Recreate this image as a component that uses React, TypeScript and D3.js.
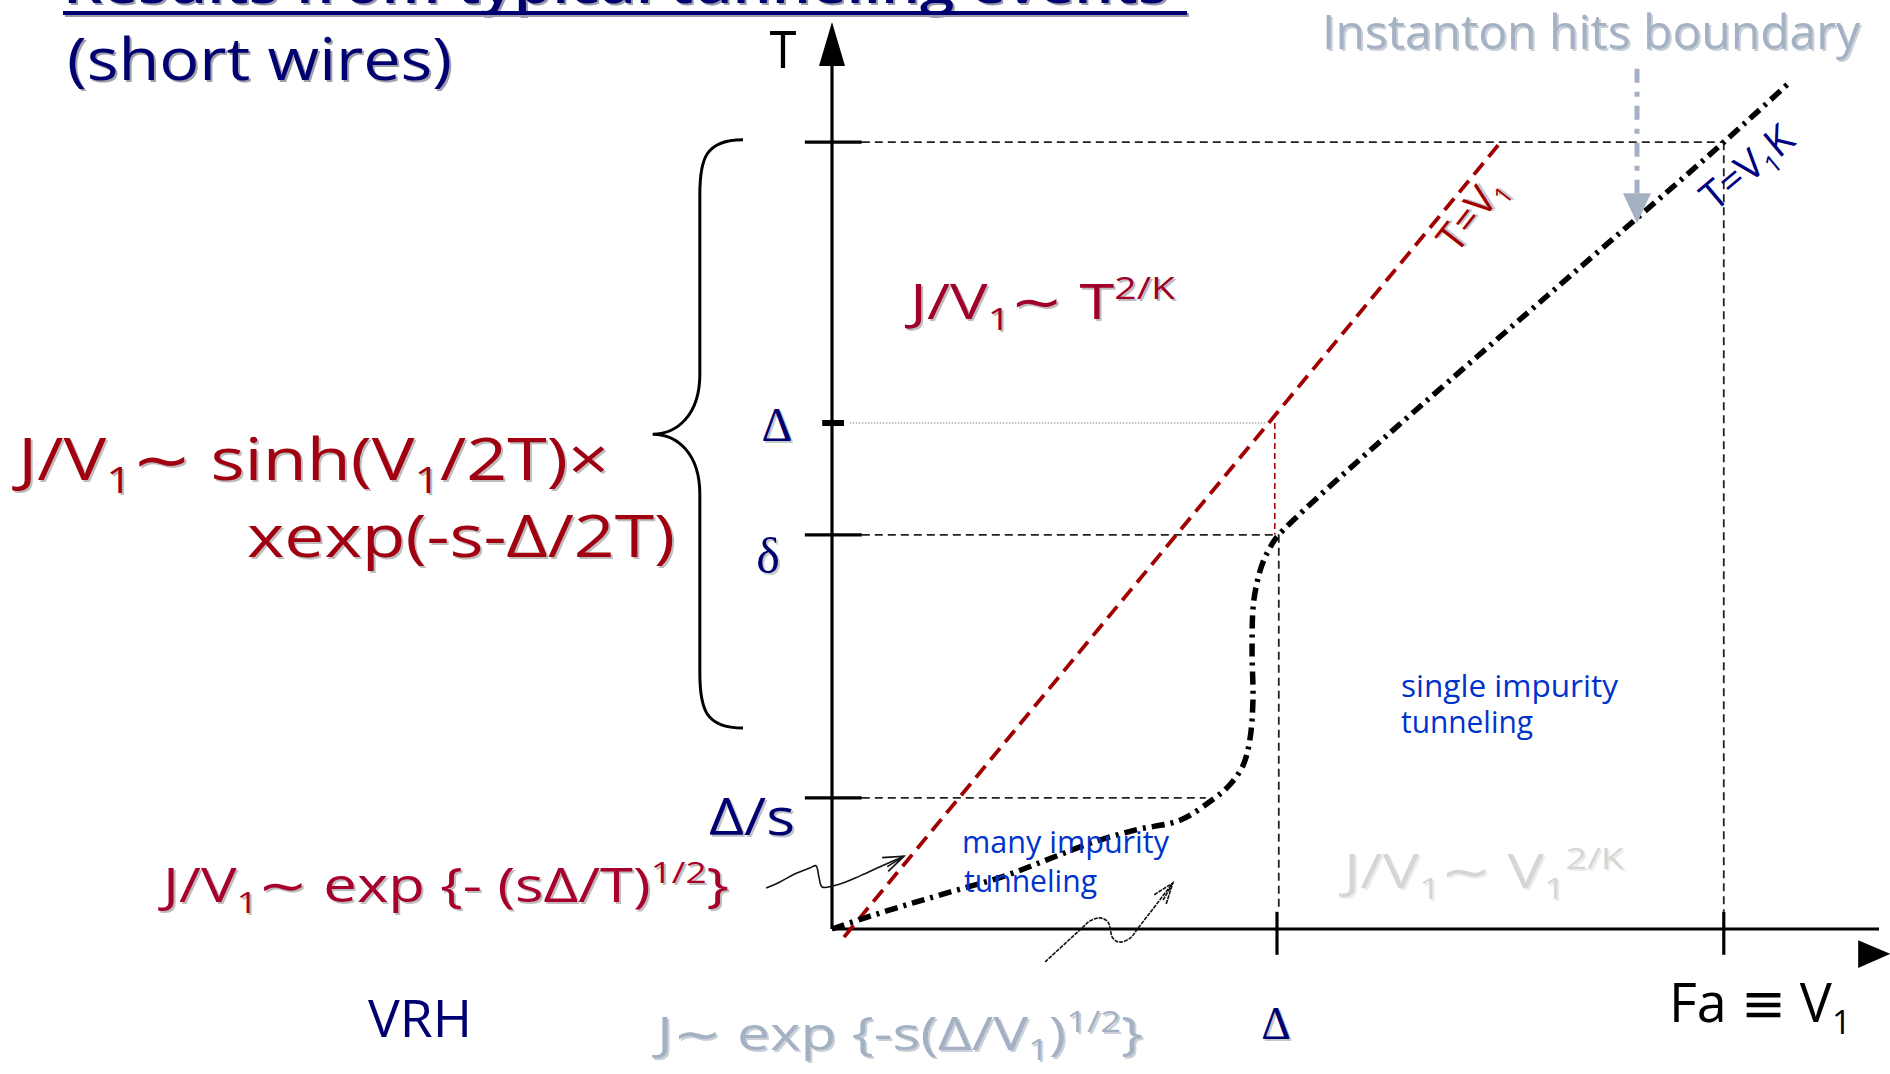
import React from 'react';
import * as d3 from 'd3';

// ---------- data (units: x in V1/Δ, y in T/Δ) ----------
const yTickValues = [1.555, 1.0, 0.779, 0.259];
const xTickValues = [1.0, 2.004];
const redLineTV1: [number, number][] = [[0.027, -0.016], [1.497, 1.549]];
const crossoverCurve: [number, number][] = [
  [0, 0], [0.081, 0.024], [0.18, 0.051], [0.281, 0.077], [0.382, 0.103],
  [0.481, 0.136], [0.582, 0.17], [0.683, 0.196], [0.782, 0.215], [0.854, 0.255],
  [0.894, 0.285], [0.924, 0.324], [0.939, 0.374], [0.946, 0.453], [0.944, 0.551],
  [0.948, 0.65], [0.966, 0.719], [0.984, 0.753], [1.004, 0.779], [2.004, 1.555],
  [2.153, 1.674],
];
const wavyArrowA: [number, number][] = [
  [-0.148, 0.081], [-0.117, 0.093], [-0.083, 0.109], [-0.049, 0.121], [-0.036, 0.125],
  [-0.029, 0.101], [-0.022, 0.083], [0.018, 0.089], [0.063, 0.105], [0.108, 0.123], [0.162, 0.144],
];
const wavyArrowB: [number, number][] = [
  [0.479, -0.065], [0.562, 0.002], [0.58, 0.016], [0.602, 0.022], [0.62, 0.014],
  [0.631, -0.018], [0.647, -0.026], [0.67, -0.018], [0.688, 0.002], [0.766, 0.091],
];
const instantonArrow: [number, number][] = [[1.809, 1.7], [1.809, 1.395]];
const bracePoints = { top: 1.56, mid: 0.978, bottom: 0.397 };

const NAVY = '#000070';
const FONT = "'Open Sans', 'DejaVu Sans', sans-serif";
const SERIF = "'Liberation Serif', 'DejaVu Serif', serif";

type Part = [string, 'n' | 'sub' | 'sup'];
function rich(parts: Part[], size: number) {
  let cur = 0;
  return parts.map(([t, k], i) => {
    const target = k === 'sub' ? size * 0.22 : k === 'sup' ? -size * 0.4 : 0;
    const dy = target - cur;
    cur = target;
    return (
      <tspan key={i} dy={dy} fontSize={k === 'n' ? size : size * 0.62}>{t}</tspan>
    );
  });
}

function Txt(props: any) {
  const { x, y, size, fill, anchor = 'start', family = FONT, len, rotate = 0,
    shadow = '#bdbdbd', weight = 400, children } = props;
  const common: any = {
    fontSize: size, fontFamily: family, textAnchor: anchor, fontWeight: weight,
  };
  if (len) { common.textLength = len; common.lengthAdjust = 'spacingAndGlyphs'; }
  return (
    <g transform={`translate(${x},${y}) rotate(${rotate})`}>
      {shadow && <text x={2} y={2} fill={shadow} {...common}>{children}</text>}
      <text x={0} y={0} fill={fill} {...common}>{children}</text>
    </g>
  );
}

export default function App() {
  const x = d3.scaleLinear().domain([0, 1]).range([832, 1277]);
  const y = d3.scaleLinear().domain([0, 1]).range([929, 423]);
  const line = d3.line<[number, number]>().x(d => x(d[0])).y(d => y(d[1]));
  const smooth = d3.line<[number, number]>().x(d => x(d[0])).y(d => y(d[1]))
    .curve(d3.curveCatmullRom.alpha(0.5));

  const arrowHead = (pts: [number, number][], len = 22, spread = 0.35) => {
    const a = pts[pts.length - 2], b = pts[pts.length - 1];
    const ang = Math.atan2(y(b[1]) - y(a[1]), x(b[0]) - x(a[0]));
    const tx = x(b[0]), ty = y(b[1]);
    const p1 = [tx - len * Math.cos(ang - spread), ty - len * Math.sin(ang - spread)];
    const p2 = [tx - len * Math.cos(ang + spread), ty - len * Math.sin(ang + spread)];
    const p3 = [tx - len * 0.9 * Math.cos(ang - spread * 0.4), ty - len * 0.9 * Math.sin(ang - spread * 0.4)];
    return `M${p1[0]},${p1[1]}L${tx},${ty}L${p2[0]},${p2[1]}M${p3[0]},${p3[1]}L${tx},${ty}`;
  };

  const x0 = x(0), y0 = y(0);
  const tickL = x(-0.061), tickR = x(0.067);

  // brace
  const bx = x(-0.2), bTip = x(-0.403), bArm = x(-0.297);
  const yt = y(bracePoints.top), ym = y(bracePoints.mid), yb = y(bracePoints.bottom);
  const braceD = `M${bx},${yt} C${bArm + 5},${yt} ${bArm},${yt + 20} ${bArm},${yt + 55}
    L${bArm},${ym - 60} C${bArm},${ym - 20} ${bTip + 25},${ym} ${bTip},${ym}
    C${bTip + 25},${ym} ${bArm},${ym + 20} ${bArm},${ym + 60}
    L${bArm},${yb - 55} C${bArm},${yb - 20} ${bArm + 5},${yb} ${bx},${yb}`;

  const ia = instantonArrow;
  const iaX = x(ia[0][0]);

  return (
    <svg width={1890} height={1074} style={{ position: 'absolute', left: 0, top: 0, background: '#fff' }}>
      <rect width={1890} height={1074} fill="#fff" />

      {/* title (cropped) */}
      <Txt x={63} y={3} size={54} fill={NAVY} len={1105} shadow="#9a9aaa" weight={600}>Results from typical tunneling events</Txt>
      <rect x={65} y={13} width={1124} height={4} fill="#9a9aaa" />
      <rect x={63} y={11} width={1124} height={4} fill={NAVY} />
      <Txt x={67} y={80} size={58} fill={NAVY} len={385} shadow="#a0a0a8" weight={500}>(short wires)</Txt>

      {/* guide lines */}
      <g fill="none" stroke="#222" strokeWidth={1.8} strokeDasharray="8 5">
        <line x1={tickR} x2={x(2.004)} y1={y(1.555)} y2={y(1.555)} />
        <line x1={x(2.004)} x2={x(2.004)} y1={y(1.555)} y2={y(0.034)} />
        <line x1={tickR} x2={x(1.004)} y1={y(0.779)} y2={y(0.779)} />
        <line x1={x(1.004)} x2={x(1.004)} y1={y(0.779)} y2={y(0.034)} />
        <line x1={tickR} x2={x(0.84)} y1={y(0.259)} y2={y(0.259)} />
      </g>
      <line x1={x(0.04)} x2={x(0.975)} y1={y(1)} y2={y(1)} stroke="#888" strokeWidth={1} strokeDasharray="1.5 1.5" />
      <line x1={x(0.995)} x2={x(0.995)} y1={y(1)} y2={y(0.779)} stroke="#A00000" strokeWidth={1.6} strokeDasharray="6 4" />

      {/* axes */}
      <line x1={x0} x2={x0} y1={y0} y2={y(1.72)} stroke="#000" strokeWidth={3.2} />
      <path d={`M${x0},22 L${x0 - 13},66 L${x0 + 13},66 Z`} fill="#000" />
      <line x1={x0} x2={1879} y1={y0} y2={y0} stroke="#000" strokeWidth={3.2} />
      <path d={`M${x(2.306)},${y(-0.022)} L${x(2.378)},${y(-0.049)} L${x(2.306)},${y(-0.077)} Z`} fill="#000" />

      {/* ticks */}
      {yTickValues.map((v, i) => v === 1.0 ? (
        <line key={i} x1={x(-0.022)} x2={x(0.027)} y1={y(v)} y2={y(v)} stroke="#000" strokeWidth={6} />
      ) : (
        <line key={i} x1={tickL} x2={tickR} y1={y(v)} y2={y(v)} stroke="#000" strokeWidth={3.2} />
      ))}
      {xTickValues.map((v, i) => (
        <line key={i} x1={x(v)} x2={x(v)} y1={y(0.034)} y2={y(-0.051)} stroke="#000" strokeWidth={3.2} />
      ))}

      {/* T = V1 line */}
      <path d={line(redLineTV1) || ''} stroke="#A00000" strokeWidth={3.8} strokeDasharray="15 8" fill="none" />

      {/* crossover curve */}
      <path d={smooth(crossoverCurve) || ''} stroke="#000" strokeWidth={5.5} strokeDasharray="13 6 3 6" fill="none" />

      {/* wavy arrows */}
      <g fill="none" stroke="#111" strokeWidth={1.6}>
        <path d={smooth(wavyArrowA) || ''} />
        <path d={arrowHead(wavyArrowA)} />
        <path d={smooth(wavyArrowB) || ''} strokeDasharray="4 1" />
        <path d={arrowHead(wavyArrowB)} strokeDasharray="4 1" />
      </g>

      {/* instanton arrow */}
      <line x1={iaX} x2={iaX} y1={y(ia[0][1])} y2={y(ia[1][1]) - 30} stroke="#A3B1C3" strokeWidth={5} strokeDasharray="14 9 5 9" />
      <path d={`M${iaX - 14},${y(ia[1][1]) - 30} L${iaX + 14},${y(ia[1][1]) - 30} L${iaX},${y(ia[1][1])} Z`} fill="#A3B1C3" />

      {/* brace */}
      <path d={braceD} fill="none" stroke="#000" strokeWidth={3} />

      {/* axis labels */}
      <Txt x={783} y={68} size={54} fill="#000" anchor="middle" len={28} family="'Liberation Sans', sans-serif" shadow={null}>T</Txt>
      <Txt x={777} y={441} size={48} fill={NAVY} anchor="middle" family={SERIF} shadow="#c8c8c8">Δ</Txt>
      <Txt x={768} y={573} size={50} fill={NAVY} anchor="middle" family={SERIF} shadow="#c8c8c8">δ</Txt>
      <Txt x={709} y={835} size={52} fill={NAVY} len={86} shadow="#c0c0c8" weight={500}>Δ/s</Txt>
      <Txt x={1276} y={1039} size={46} fill={NAVY} anchor="middle" family={SERIF} shadow="#c8c8c8">Δ</Txt>
      <Txt x={1669} y={1022} size={54} fill="#000" len={182} shadow={null}>{rich([['Fa ≡ V', 'n'], ['1', 'sub']], 54)}</Txt>
      <Txt x={368} y={1037} size={52} fill={NAVY} len={104} shadow={null}>VRH</Txt>

      {/* annotations */}
      <Txt x={1322} y={49} size={48} fill="#A3B1C3" len={538} shadow="#c9d0d8" weight={500}>Instanton hits boundary</Txt>
      <Txt x={1482} y={222} size={40} fill="#A00000" anchor="middle" rotate={-52} shadow="#c8c8c8">{rich([['T=V', 'n'], ['1', 'sub']], 40)}</Txt>
      <Txt x={1756} y={178} size={40} fill="#000080" anchor="middle" rotate={-40} shadow={null}>{rich([['T=V', 'n'], ['1', 'sub'], ['K', 'n']], 40)}</Txt>

      <Txt x={910} y={319} size={50} fill="#A0002A" len={265} weight={500}>{rich([['J/V', 'n'], ['1', 'sub'], ['∼ T', 'n'], ['2/K', 'sup']], 50)}</Txt>
      <Txt x={18} y={480} size={58} fill="#A00010" len={591} weight={500}>{rich([['J/V', 'n'], ['1', 'sub'], ['∼ sinh(V', 'n'], ['1', 'sub'], ['/2T)×', 'n']], 58)}</Txt>
      <Txt x={247} y={557} size={58} fill="#A00010" len={428} weight={500}>xexp(-s-Δ/2T)</Txt>
      <Txt x={163} y={902} size={48} fill="#A8002C" len={566} weight={500}>{rich([['J/V', 'n'], ['1', 'sub'], ['∼ exp {- (sΔ/T)', 'n'], ['1/2', 'sup'], ['}', 'n']], 48)}</Txt>
      <Txt x={657} y={1050} size={46} fill="#A3B1C3" len={486} shadow="#c9d0d8" weight={500}>{rich([['J∼ exp {-s(Δ/V', 'n'], ['1', 'sub'], [')', 'n'], ['1/2', 'sup'], ['}', 'n']], 46)}</Txt>
      <Txt x={1344} y={888} size={48} fill="#D6D6D6" len={280} shadow="#ececec" weight={500}>{rich([['J/V', 'n'], ['1', 'sub'], ['∼ V', 'n'], ['1', 'sub'], ['2/K', 'sup']], 48)}</Txt>

      <Txt x={962} y={853} size={31} fill="#0033CC" len={207} shadow={null}>many impurity</Txt>
      <Txt x={964} y={892} size={31} fill="#0033CC" len={133} shadow={null}>tunneling</Txt>
      <Txt x={1401} y={697} size={31} fill="#0033CC" len={217} shadow={null}>single impurity</Txt>
      <Txt x={1401} y={733} size={31} fill="#0033CC" len={132} shadow={null}>tunneling</Txt>
    </svg>
  );
}
